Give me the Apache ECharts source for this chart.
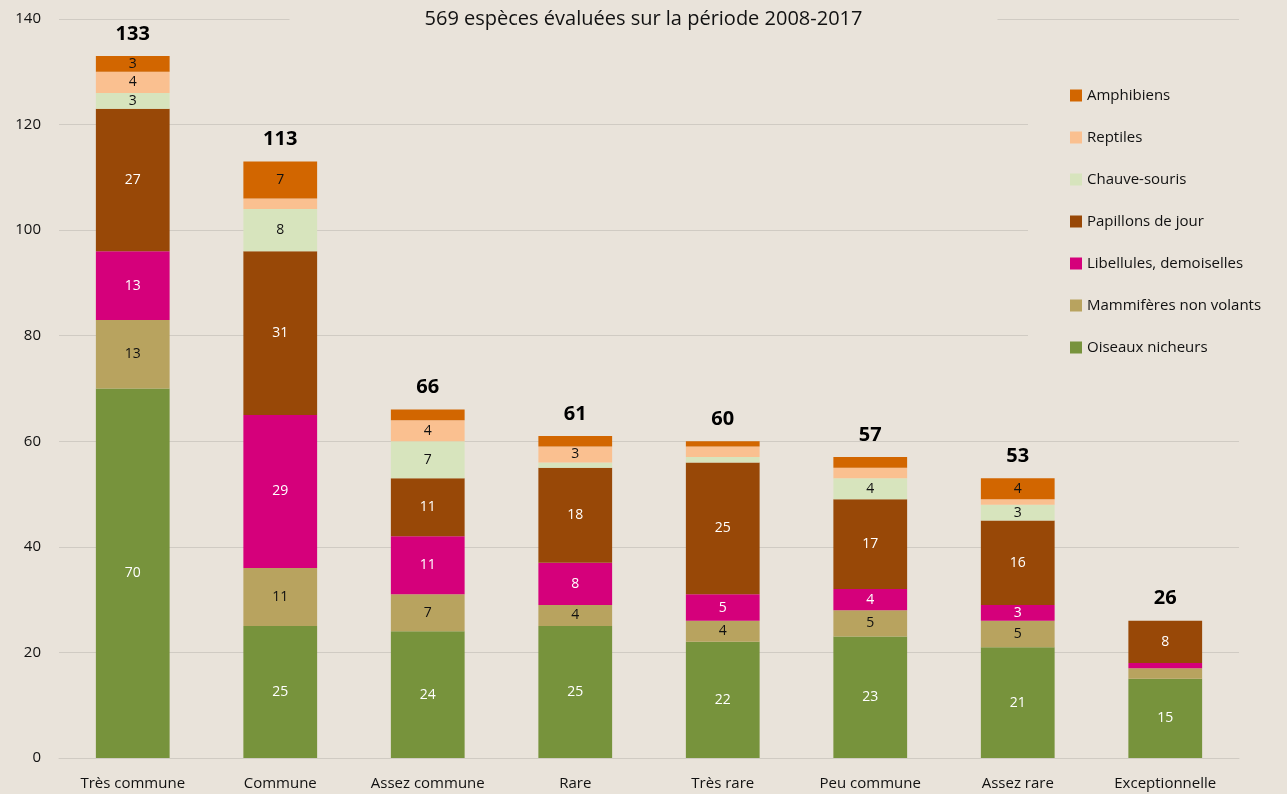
<!DOCTYPE html>
<html>
<head>
<meta charset="utf-8">
<script src="https://cdn.jsdelivr.net/npm/echarts@6/dist/echarts.min.js"></script>
<style>
  html, body { margin: 0; padding: 0; background: #e9e3da; }
  #main { width: 1287px; height: 794px; }
</style>
</head>
<body>
<div id="main"></div>
<script>
var categories = ['Très commune', 'Commune', 'Assez commune', 'Rare', 'Très rare', 'Peu commune', 'Assez rare', 'Exceptionnelle'];

var oiseaux     = [70, 25, 24, 25, 22, 23, 21, 15];
var mammiferes  = [13, 11, 7, 4, 4, 5, 5, 2];
var libellules  = [13, 29, 11, 8, 5, 4, 3, 1];
var papillons   = [27, 31, 11, 18, 25, 17, 16, 8];
var chauves     = [3, 8, 7, 1, 1, 4, 3, 0];
var reptiles    = [4, 2, 4, 3, 2, 2, 1, 0];
var amphibiens  = [3, 7, 2, 2, 1, 2, 4, 0];
var totals      = [133, 113, 66, 61, 60, 57, 53, 26];

var yTicks = [0, 20, 40, 60, 80, 100, 120, 140];

var font = 'Open Sans';
var chart = echarts.init(document.getElementById('main'));

// une série empilée par groupe
function serie(name, data, color, labelColor) {
    return {
        name: name,
        type: 'bar',
        stack: 'total',
        barWidth: '50%',
        data: data,
        itemStyle: { color: color },
        label: {
            show: true,
            position: 'inside',
            color: labelColor,
            fontFamily: font,
            fontSize: 14,
            formatter: function (p) { return p.value >= 3 ? p.value : ''; }
        }
    };
}

var option = {
    backgroundColor: '#e9e3da',
    animation: false,
    title: {
        text: '569 espèces évaluées sur la période 2008-2017',
        left: 'center',
        top: 5,
        backgroundColor: '#e9e3da',
        padding: [4, 135, 4, 135],
        textStyle: { fontFamily: font, fontSize: 20, fontWeight: 'normal', color: '#111' }
    },
    grid: { left: 59, right: 48, top: 19, bottom: 36 },
    // fond de la légende : cache le quadrillage derrière
    graphic: [{
        type: 'rect',
        z: 3,
        shape: { x: 1028, y: 66, width: 259, height: 300 },
        style: { fill: '#e9e3da' }
    }],
    legend: {
        orient: 'vertical',
        left: 1064,
        top: 80,
        itemGap: 27,
        itemWidth: 12,
        itemHeight: 12,
        icon: 'rect',
        padding: [8, 10, 8, 6],
        textStyle: { fontFamily: font, fontSize: 15, color: '#111' },
        data: ['Amphibiens', 'Reptiles', 'Chauve-souris', 'Papillons de jour', 'Libellules, demoiselles', 'Mammifères non volants', 'Oiseaux nicheurs']
    },
    xAxis: {
        type: 'category',
        data: categories,
        axisLine: { lineStyle: { color: '#d0cbc3' } },
        axisTick: { show: false },
        axisLabel: { interval: 0, fontFamily: font, fontSize: 15, color: '#111', margin: 18 }
    },
    yAxis: {
        type: 'value',
        min: yTicks[0],
        max: yTicks[yTicks.length - 1],
        interval: 20,
        axisLine: { show: false },
        axisTick: { show: false },
        splitLine: { lineStyle: { color: '#d0cbc3', width: 1 } },
        axisLabel: { fontFamily: font, fontSize: 15, color: '#111', margin: 18 }
    },
    series: [
        serie('Oiseaux nicheurs', oiseaux, '#77933c', '#ffffff'),
        serie('Mammifères non volants', mammiferes, '#b8a35f', '#111'),
        serie('Libellules, demoiselles', libellules, '#d5007b', '#ffffff'),
        serie('Papillons de jour', papillons, '#984807', '#ffffff'),
        serie('Chauve-souris', chauves, '#d7e4bd', '#111'),
        serie('Reptiles', reptiles, '#fac090', '#111'),
        serie('Amphibiens', amphibiens, '#d26600', '#111'),
        {
            name: 'Total',
            type: 'scatter',
            data: totals,
            symbolSize: 0,
            silent: true,
            itemStyle: { opacity: 1 },
            label: {
                show: true,
                position: 'top',
                distance: 12,
                fontFamily: font,
                fontSize: 20,
                fontWeight: 'bold',
                color: '#000',
                formatter: '{c}'
            }
        }
    ]
};

option && chart.setOption(option);
</script>
</body>
</html>
